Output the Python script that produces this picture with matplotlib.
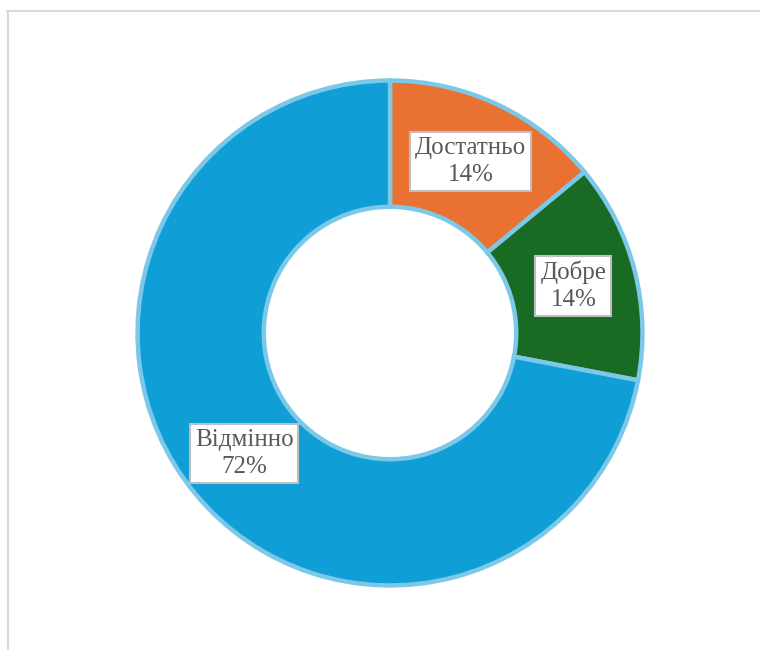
import numpy as np
import matplotlib.pyplot as plt
from matplotlib.lines import Line2D

labels = ["Достатньо", "Добре", "Відмінно"]
values = [14, 14, 72]
colors = ["#E97132", "#196B24", "#0F9ED5"]

plt.rcParams["font.family"] = ["Liberation Serif", "DejaVu Serif"]

fig = plt.figure(figsize=(7.6, 6.5), dpi=100)

# thin gray chart frame (cropped at right and bottom)
fig.add_artist(Line2D([7 / 760, 1.0], [1 - 11 / 650] * 2, color="#d9d9d9", lw=1.5))
fig.add_artist(Line2D([8 / 760] * 2, [0, 1 - 11 / 650], color="#d9d9d9", lw=1.5))

cx, cy, r = 390, 333, 255
ax = fig.add_axes([(cx - r) / 760, (650 - cy - r) / 650, 2 * r / 760, 2 * r / 650])

wedges, _ = ax.pie(
    values,
    colors=colors,
    startangle=90,
    counterclock=False,
    radius=1,
    wedgeprops=dict(width=0.5, edgecolor="#7CC8E8", linewidth=3.2),
)

for w, lab, v in zip(wedges, labels, values):
    ang = np.deg2rad((w.theta1 + w.theta2) / 2)
    x, y = 0.75 * np.cos(ang), 0.75 * np.sin(ang)
    ax.text(
        x, y, f"{lab}\n{v}%",
        ha="center", va="center", fontsize=18, color="#595959",
        linespacing=1.3,
        bbox=dict(boxstyle="square,pad=0.2", fc="white", ec="#bfbfbf", lw=1.5),
    )

ax.set_xlim(-1.01, 1.01)
ax.set_ylim(-1.01, 1.01)
ax.set_aspect("equal")
ax.axis("off")

fig.savefig("out.png", dpi=100)
